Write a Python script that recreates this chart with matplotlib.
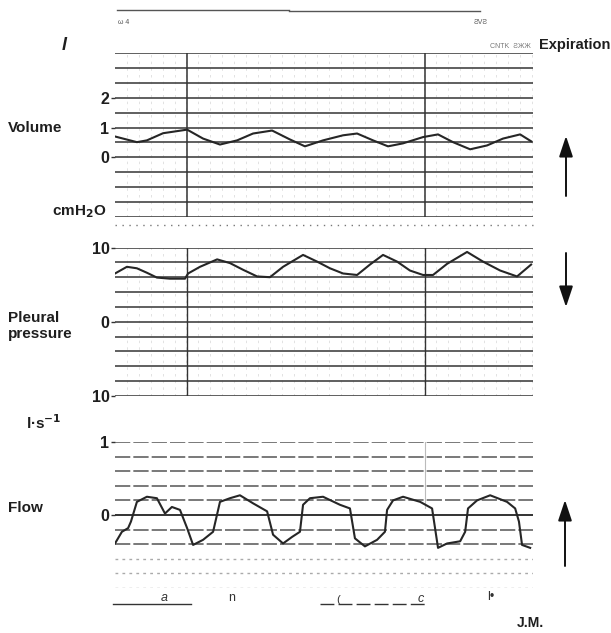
import matplotlib
matplotlib.use("Agg")
import matplotlib.pyplot as plt
from matplotlib.patches import FancyArrowPatch
import numpy as np

plt.rcParams['font.family'] = ['Liberation Sans Narrow', 'Liberation Sans', 'DejaVu Sans']

# time in seconds (bold verticals every 10 s)
vol_t = [0.00, 0.92, 1.34, 2.02, 3.03, 3.70, 4.41, 5.13, 5.80, 6.60, 7.35, 7.98, 8.74,
         9.58, 10.17, 10.84, 11.47, 12.10, 12.94, 13.57, 14.20, 14.92, 15.63, 16.30, 17.02, 17.48]
vol_l = [0.70, 0.51, 0.57, 0.81, 0.93, 0.63, 0.43, 0.57, 0.80, 0.90, 0.60, 0.37, 0.57,
         0.74, 0.80, 0.57, 0.37, 0.47, 0.68, 0.77, 0.51, 0.27, 0.40, 0.63, 0.77, 0.54]

pres_t = [0.00, 0.50, 0.92, 1.34, 1.76, 2.31, 2.94, 3.07, 3.57, 4.29, 4.83, 5.38, 5.97, 6.51,
          7.06, 7.90, 8.49, 9.03, 9.58, 10.17, 10.71, 11.26, 11.85, 12.39, 12.94, 13.36,
          13.95, 14.79, 15.46, 16.18, 16.89, 17.48]
pres_cm = [6.5, 7.4, 7.2, 6.6, 5.95, 5.8, 5.8, 6.5, 7.4, 8.4, 7.9, 7.0, 6.1, 6.0,
           7.4, 9.0, 8.1, 7.2, 6.5, 6.3, 7.7, 9.0, 8.1, 6.9, 6.3, 6.3,
           7.8, 9.4, 8.1, 6.9, 6.1, 7.7]

flow_t = [0.00, 0.29, 0.55, 0.67, 0.92, 1.34, 1.76, 2.10, 2.39, 2.73, 3.03, 3.28, 3.70, 4.12,
          4.41, 4.83, 5.25, 5.80, 6.39, 6.64, 7.06, 7.44, 7.77, 7.90, 8.19, 8.74, 9.45, 9.87,
          10.08, 10.50, 11.01, 11.34, 11.43, 11.68, 12.10, 12.82, 13.32, 13.57, 13.95, 14.50,
          14.71, 14.83, 15.21, 15.76, 16.47, 16.81, 16.97, 17.10, 17.44]
flow_ls = [-0.39, -0.23, -0.18, -0.09, 0.18, 0.25, 0.23, 0.02, 0.11, 0.07, -0.18, -0.41, -0.34, -0.23,
           0.18, 0.23, 0.27, 0.16, 0.05, -0.27, -0.39, -0.30, -0.23, 0.14, 0.23, 0.25, 0.14, 0.09,
           -0.32, -0.43, -0.34, -0.23, 0.07, 0.20, 0.25, 0.18, 0.09, -0.45, -0.39, -0.36,
           -0.23, 0.09, 0.20, 0.27, 0.18, 0.09, -0.09, -0.41, -0.45]

vol_ticks = [0, 1, 2]
pres_ticks = [-10, 0, 10]
pres_labels = ['10', '0', '10']
flow_ticks = [0, 1]
marks = [3.03, 13.03]

W, H = 611, 633
fig = plt.figure(figsize=(W / 100, H / 100), dpi=100)
fig.patch.set_facecolor('white')


def box(top, bottom):
    return [115 / W, 1 - bottom / H, 418 / W, (bottom - top) / H]


def fx(x):
    return x / W


def fy(y):
    return 1 - y / H


tmax = 17.56
bold = dict(fontsize=11, fontweight='bold', color='#1e1e1e')

# volume
ax1 = fig.add_axes(box(53, 217))
ax1.set_ylim(-2.0, 3.5)
for v in np.arange(-2.0, 3.51, 0.5):
    ax1.axhline(v, color='#444444', lw=1.2)
for m in marks:
    ax1.axvline(m, color='#333333', lw=1.1)
ax1.plot(vol_t, vol_l, color='#262626', lw=1.5)
ax1.set_yticks(vol_ticks)
ax1.set_yticklabels([str(v) for v in vol_ticks])

# pleural pressure
ax2 = fig.add_axes(box(247.5, 396))
ax2.set_ylim(-10, 10)
for v in np.arange(-10, 10.1, 2):
    ax2.axhline(v, color='#444444', lw=1.2)
for m in marks:
    ax2.axvline(m, color='#333333', lw=1.0)
ax2.plot(pres_t, pres_cm, color='#262626', lw=1.5)
ax2.set_yticks(pres_ticks)
ax2.set_yticklabels(pres_labels)

# flow
ax3 = fig.add_axes(box(442, 588))
ax3.set_ylim(-1.0, 1.0)
for v in np.arange(-1.0, 1.01, 0.2):
    if abs(v) < 1e-9:
        ax3.axhline(v, color='#333333', lw=1.4)
    elif v > -0.5:
        ax3.axhline(v, color='#555555', lw=1.1, ls=(0, (10, 2)))
    else:
        ax3.axhline(v, color='#aaaaaa', lw=1.0, ls=(0, (2, 3)))
ax3.plot([marks[1], marks[1]], [0.1, 1.0], color='#bbbbbb', lw=0.8)
ax3.plot(flow_t, flow_ls, color='#262626', lw=1.5)
ax3.set_yticks(flow_ticks)
ax3.set_yticklabels([str(v) for v in flow_ticks])

for ax in (ax1, ax2, ax3):
    ax.set_xlim(0, tmax)
    ax.set_facecolor('none')
    for s in ax.spines.values():
        s.set_visible(False)
    ax.set_xticks([])
    ax.tick_params(axis='y', length=3, width=1, pad=1, color='#333333')
    for lab in ax.get_yticklabels():
        lab.set_fontsize(11.5)
        lab.set_fontweight('bold')
        lab.set_color('#1e1e1e')

for ax in (ax1, ax2):
    for t in np.arange(0.5, tmax, 0.5):
        ax.axvline(t, color='#dddddd', lw=0.6, ls=(0, (3, 5)), zorder=0)

# paper marks above the first trace
fig.add_artist(plt.Line2D([fx(117), fx(289)], [fy(10), fy(10)], color='#555555', lw=1.0))
fig.add_artist(plt.Line2D([fx(289), fx(480)], [fy(11), fy(11)], color='#555555', lw=1.0))
fig.text(fx(118), fy(22), 'ω 4', fontsize=5, color='#555555', va='center')
fig.text(fx(474), fy(22), 'ƧVƧ', fontsize=5, color='#555555', va='center')
fig.text(fx(490), fy(46), 'CNTK  ƧЖЖ', fontsize=5, color='#777777', va='center')
fig.add_artist(plt.Line2D([fx(115), fx(533)], [fy(225), fy(225)], color='#777777', lw=1.0,
                          ls=(0, (1, 4))))

# side labels
fig.text(fx(62), fy(46), 'l', fontsize=13, fontweight='bold', style='italic', color='#1e1e1e', va='center')
fig.text(fx(610), fy(45), 'Expiration', va='center', ha='right', fontsize=10.5, fontweight='bold',
         color='#1e1e1e')
fig.text(fx(8), fy(128), 'Volume', va='center', **bold)
fig.text(fx(106), fy(212), 'cmH$_\\mathbf{2}$O', va='center', ha='right', **bold)
fig.text(fx(8), fy(326), 'Pleural\npressure', va='center', linespacing=1.1, **bold)
fig.text(fx(26), fy(423), 'l·s$^{\\mathbf{-1}}$', va='center', **bold)
fig.text(fx(8), fy(508), 'Flow', va='center', **bold)

# direction arrows
arrow = dict(arrowstyle='-|>,head_width=0.3,head_length=0.9', mutation_scale=14, color='#111111',
             lw=1.4, transform=fig.transFigure, shrinkA=0, shrinkB=0)
fig.add_artist(FancyArrowPatch((fx(566), fy(196)), (fx(566), fy(136)), **arrow))
fig.add_artist(FancyArrowPatch((fx(566), fy(253)), (fx(566), fy(307)), **arrow))
fig.add_artist(FancyArrowPatch((fx(565), fy(566)), (fx(565), fy(500)), **arrow))

# bottom scribbles
fig.add_artist(plt.Line2D([fx(113), fx(191)], [fy(604), fy(604)], color='#333333', lw=1.0))
fig.add_artist(plt.Line2D([fx(320), fx(426)], [fy(604), fy(604)], color='#333333', lw=1.0,
                          ls=(0, (10, 3))))
fig.text(fx(164), fy(598), 'a', fontsize=9, style='italic', color='#333333', ha='center', va='center')
fig.text(fx(232), fy(598), 'n', fontsize=9, color='#333333', ha='center', va='center')
fig.text(fx(338), fy(600), '(', fontsize=8, color='#333333', ha='center', va='center')
fig.text(fx(421), fy(599), 'c', fontsize=9, style='italic', color='#333333', ha='center', va='center')
fig.text(fx(491), fy(597), 'l•', fontsize=9, color='#333333', ha='center', va='center')
fig.text(fx(530), fy(623), 'J.M.', fontsize=10, fontweight='bold', color='#1e1e1e', ha='center', va='center')

fig.savefig('out.png', dpi=100, facecolor='white')
